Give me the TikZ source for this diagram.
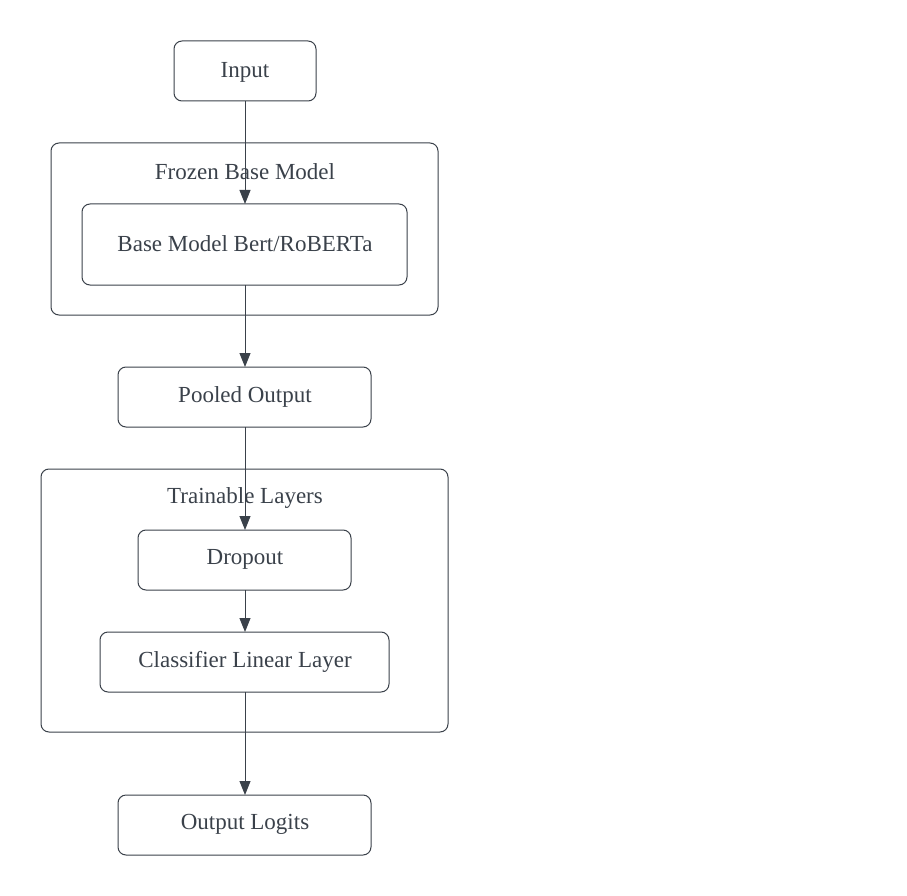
\documentclass[tikz,border=0pt]{standalone}
\usepackage{fontspec}
\setmainfont{Liberation Serif}
\usetikzlibrary{arrows.meta}
\definecolor{ink}{HTML}{3A414A}
\tikzset{
  box/.style={draw=ink, line width=1pt, rounded corners=8pt, text=ink},
  lbl/.style={text=ink, inner sep=0pt},
  conn/.style={draw=ink, line width=1pt, -{Triangle[width=11pt,length=14pt]}}
}
\begin{document}
\begin{tikzpicture}[x=1pt,y=-1pt,font=\fontsize{23}{27}\selectfont]
\useasboundingbox (0,0) rectangle (907,896);
% containers
\draw[box] (51,143) rectangle (438,315);
\node[lbl] (frozenlbl) at (245,171.5) {Frozen Base Model};
\draw[box] (41,469) rectangle (448,732);
\node[lbl] (trainlbl) at (245,497.5) {Trainable Layers};
% boxes
\draw[box] (174,41) rectangle (316,101);
\node[lbl] (input) at (245,72.5) {Input};
\coordinate (inputB) at (245,101);
\draw[box] (82,204) rectangle (407,285);
\node[lbl] (base) at (245,243.5) {Base Model Bert/RoBERTa};
\coordinate (baseT) at (245,204);
\coordinate (baseB) at (245,285);
\draw[box] (118,367) rectangle (371,427);
\node[lbl] (pooled) at (245,396.5) {Pooled Output};
\coordinate (pooledT) at (245,367);
\coordinate (pooledB) at (245,427);
\draw[box] (138,530) rectangle (351,590);
\node[lbl] (dropout) at (245,559.5) {Dropout};
\coordinate (dropT) at (245,530);
\coordinate (dropB) at (245,590);
\draw[box] (100,632) rectangle (389,692);
\node[lbl] (cls) at (245,661.5) {Classifier Linear Layer};
\coordinate (clsT) at (245,632);
\coordinate (clsB) at (245,692);
\draw[box] (118,795) rectangle (371,855);
\node[lbl] (out) at (245,824.5) {Output Logits};
\coordinate (outT) at (245,795);
% connectors
\draw[conn] (inputB) -- (baseT);
\draw[conn] (baseB) -- (pooledT);
\draw[conn] (pooledB) -- (dropT);
\draw[conn] (dropB) -- (clsT);
\draw[conn] (clsB) -- (outT);
\end{tikzpicture}
\end{document}
